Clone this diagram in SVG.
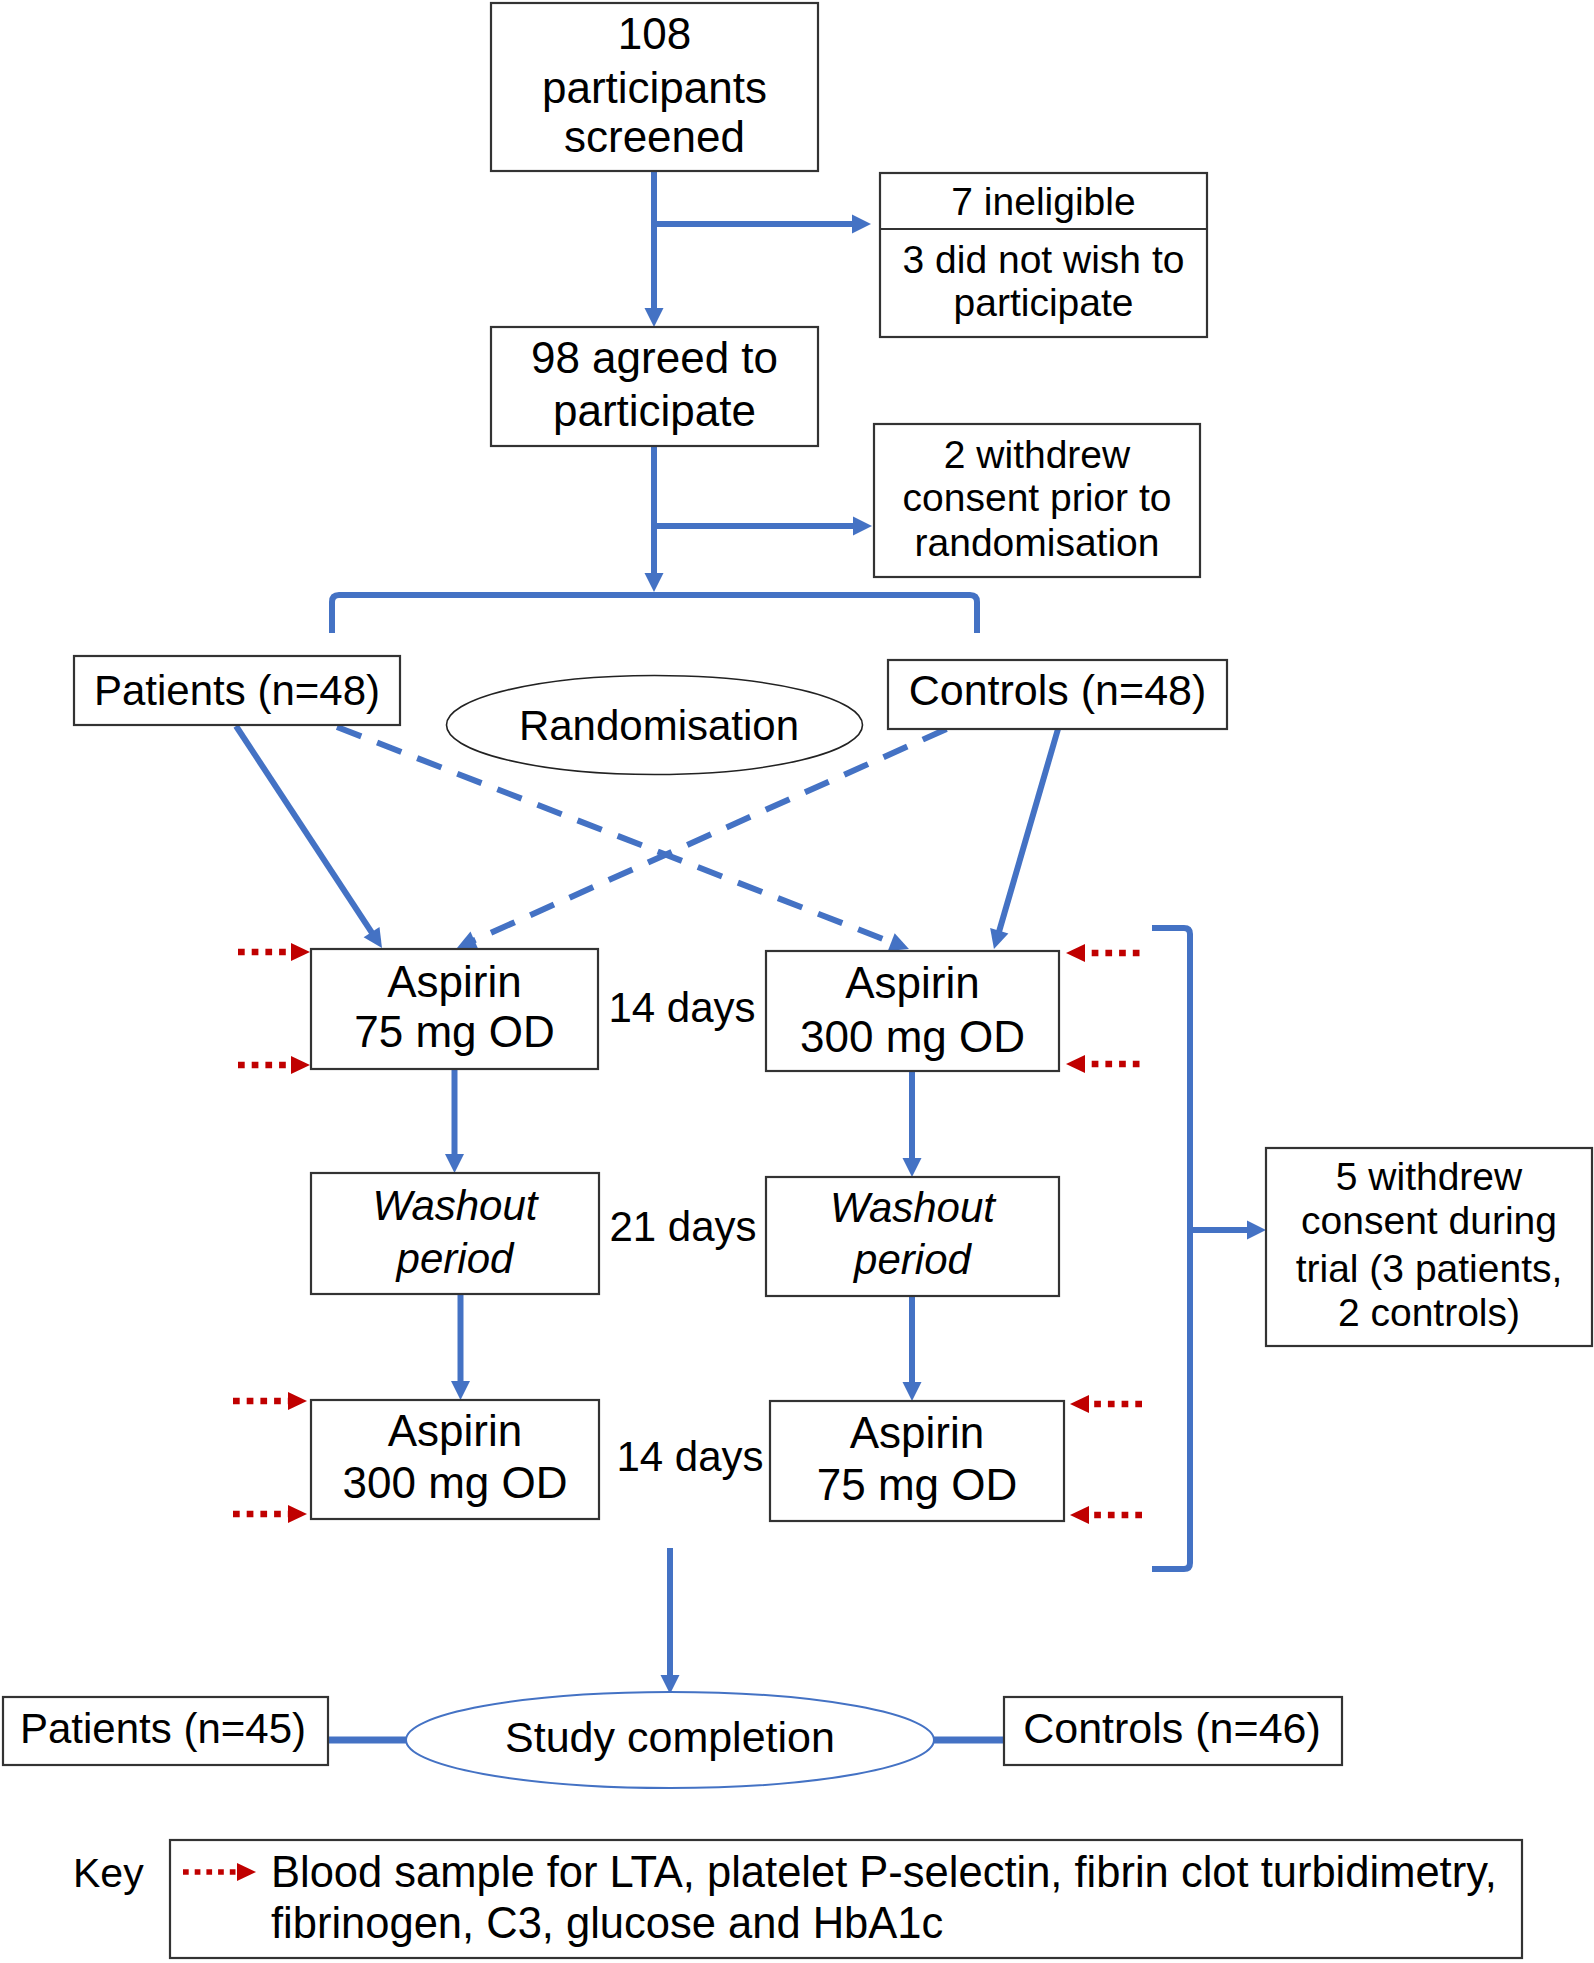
<svg xmlns="http://www.w3.org/2000/svg" width="1594" height="1963" viewBox="0 0 1594 1963">
<style>
.box{fill:#fff;stroke:#333;stroke-width:2.2}
.t{font-family:"Liberation Sans",Arial,sans-serif;fill:#000;text-anchor:middle}
.s44{font-size:44px}.s42{font-size:42px}.s43{font-size:43px}.s39{font-size:39px}
.it{font-style:italic}
.ln{fill:none;stroke:#4472C4;stroke-width:6}
.arr{marker-end:url(#bh)}
.dash{stroke-dasharray:26 17}
.red{fill:none;stroke:#C00000;stroke-width:6.5;stroke-dasharray:6.7 7;marker-end:url(#rh)}
</style>
<defs>
<marker id="bh" markerUnits="userSpaceOnUse" markerWidth="20" markerHeight="20" refX="11" refY="9.5" orient="auto" overflow="visible">
<path d="M0,0 L19,9.5 L0,19 z" fill="#4472C4"/>
</marker>
<marker id="rh" markerUnits="userSpaceOnUse" markerWidth="20" markerHeight="20" refX="0" refY="9" orient="auto" overflow="visible">
<path d="M0,0 L19,9 L0,18 z" fill="#C00000"/>
</marker>
</defs>
<rect width="1594" height="1963" fill="#fff"/>

<g id="connectors">
<path class="ln arr" d="M654,171 L654,319"/>
<path class="ln arr" d="M654,224 L863,224"/>
<path class="ln arr" d="M654,446 L654,584"/>
<path class="ln arr" d="M654,526 L864,526"/>
<path class="ln" d="M332,633 L332,602 Q332,595 339,595 L970,595 Q977,595 977,602 L977,633"/>
<path class="ln arr" d="M236,726 L377.6,941.3"/>
<path class="ln arr dash" d="M337,727 L901.5,946.1"/>
<path class="ln arr dash" d="M946.5,729 L464.3,944.7"/>
<path class="ln arr" d="M1058,729 L996.2,941.3"/>
<path class="ln arr" d="M454.5,1069 L454.5,1165"/>
<path class="ln arr" d="M912,1071 L912,1169"/>
<path class="ln arr" d="M460.5,1294 L460.5,1392"/>
<path class="ln arr" d="M912,1296 L912,1393"/>
<path class="ln" d="M1152,928 L1184,928 Q1190,928 1190,934 L1190,1563 Q1190,1569 1184,1569 L1152,1569"/>
<path class="ln arr" d="M1190,1230 L1258,1230"/>
<path class="ln arr" d="M670,1548 L670,1686"/>
<path class="ln" d="M328,1740 L406,1740" style="stroke-width:7"/>
<path class="ln" d="M934,1740 L1004,1740" style="stroke-width:7"/>
<path class="red" d="M238,952 L291,952"/>
<path class="red" d="M238,1065 L291,1065"/>
<path class="red" d="M1139.5,953 L1085,953"/>
<path class="red" d="M1139.5,1064 L1085,1064"/>
<path class="red" d="M233,1401 L288,1401"/>
<path class="red" d="M233,1514 L288,1514"/>
<path class="red" d="M1142,1404 L1089,1404"/>
<path class="red" d="M1142,1515 L1089,1515"/>
</g>

<g id="n-screened">
<rect class="box" x="491" y="3" width="327" height="168"/>
<text class="t s44" x="654.5" y="49">108</text>
<text class="t s44" x="654.5" y="103">participants</text>
<text class="t s44" x="654.5" y="152">screened</text>
</g>
<g id="n-excluded">
<rect class="box" x="880" y="173" width="327" height="164"/>
<line x1="880" y1="229" x2="1207" y2="229" stroke="#333" stroke-width="2.2"/>
<text class="t s39" x="1043.5" y="215">7 ineligible</text>
<text class="t s39" x="1043.5" y="273">3 did not wish to</text>
<text class="t s39" x="1043.5" y="316">participate</text>
</g>
<g id="n-agreed">
<rect class="box" x="491" y="327" width="327" height="119"/>
<text class="t s44" x="654.5" y="373">98 agreed to</text>
<text class="t s44" x="654.5" y="426">participate</text>
</g>
<g id="n-withdrew1">
<rect class="box" x="874" y="424" width="326" height="153"/>
<text class="t s39" x="1037" y="468">2 withdrew</text>
<text class="t s39" x="1037" y="511">consent prior to</text>
<text class="t s39" x="1037" y="556">randomisation</text>
</g>
<g id="n-patients48">
<rect class="box" x="74" y="656" width="326" height="69"/>
<text class="t s42" x="237" y="705">Patients (n=48)</text>
</g>
<g id="n-randomisation">
<ellipse cx="654.5" cy="725" rx="208" ry="49.5" fill="#fff" stroke="#222" stroke-width="1.6"/>
<text class="t s42" x="659" y="740">Randomisation</text>
</g>
<g id="n-controls48">
<rect class="box" x="888" y="660" width="339" height="69"/>
<text class="t s43" x="1057.5" y="705">Controls (n=48)</text>
</g>
<g id="n-a75-1">
<rect class="box" x="311" y="949" width="287" height="120"/>
<text class="t s44" x="454.5" y="997">Aspirin</text>
<text class="t s44" x="454.5" y="1047">75 mg OD</text>
</g>
<g id="l-14a"><text class="t s42" x="682" y="1022">14 days</text></g>
<g id="n-a300-1">
<rect class="box" x="766" y="951" width="293" height="120"/>
<text class="t s44" x="912.5" y="998">Aspirin</text>
<text class="t s44" x="912.5" y="1052">300 mg OD</text>
</g>
<g id="n-wash-l">
<rect class="box" x="311" y="1173" width="288" height="121"/>
<text class="t s42 it" x="455" y="1220">Washout</text>
<text class="t s42 it" x="455" y="1273">period</text>
</g>
<g id="l-21"><text class="t s42" x="683" y="1241">21 days</text></g>
<g id="n-wash-r">
<rect class="box" x="766" y="1177" width="293" height="119"/>
<text class="t s42 it" x="912.5" y="1222">Washout</text>
<text class="t s42 it" x="912.5" y="1274">period</text>
</g>
<g id="n-a300-2">
<rect class="box" x="311" y="1400" width="288" height="119"/>
<text class="t s44" x="455" y="1446">Aspirin</text>
<text class="t s44" x="455" y="1498">300 mg OD</text>
</g>
<g id="l-14b"><text class="t s42" x="690" y="1471">14 days</text></g>
<g id="n-a75-2">
<rect class="box" x="770" y="1401" width="294" height="120"/>
<text class="t s44" x="917" y="1448">Aspirin</text>
<text class="t s44" x="917" y="1500">75 mg OD</text>
</g>
<g id="n-withdrew2">
<rect class="box" x="1266" y="1148" width="326" height="198"/>
<text class="t s39" x="1429" y="1190">5 withdrew</text>
<text class="t s39" x="1429" y="1234">consent during</text>
<text class="t s39" x="1429" y="1282">trial (3 patients,</text>
<text class="t s39" x="1429" y="1326">2 controls)</text>
</g>
<g id="n-completion">
<ellipse cx="670" cy="1740" rx="264" ry="48" fill="#fff" stroke="#4472C4" stroke-width="2"/>
<text class="t s43" x="670" y="1752">Study completion</text>
</g>
<g id="n-patients45">
<rect class="box" x="3" y="1697" width="325" height="68"/>
<text class="t s42" x="163" y="1743">Patients (n=45)</text>
</g>
<g id="n-controls46">
<rect class="box" x="1004" y="1697" width="338" height="68"/>
<text class="t s43" x="1172" y="1743">Controls (n=46)</text>
</g>
<g id="key">
<text class="t" x="73" y="1887" style="font-size:41px;text-anchor:start">Key</text>
<rect class="box" x="170" y="1840" width="1352" height="118"/>
<path class="red" d="M183,1872 L237,1872" style="stroke-width:5.5;stroke-dasharray:5.7 6"/>
<text class="t" x="271" y="1887" style="font-size:43.5px;text-anchor:start">Blood sample for LTA, platelet P-selectin, fibrin clot turbidimetry,</text>
<text class="t" x="271" y="1938" style="font-size:43.5px;text-anchor:start">fibrinogen, C3, glucose and HbA1c</text>
</g>
</svg>
